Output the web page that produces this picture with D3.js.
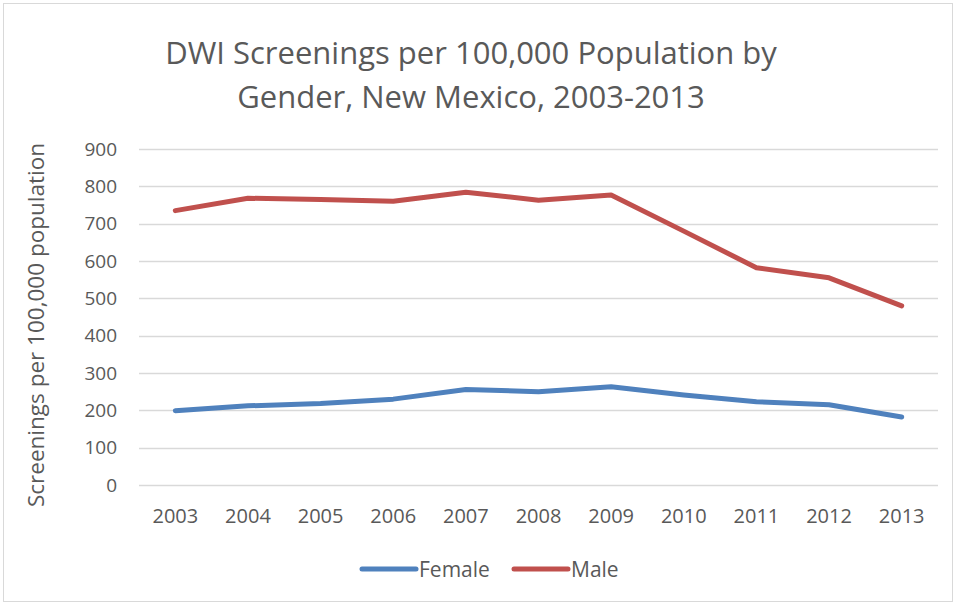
<!DOCTYPE html>
<meta charset="utf-8" />
<script src="https://d3js.org/d3.v7.min.js"></script>
<body style="margin: 0; background-color: #ffffff">
  <div id="chart"></div>
  <script>
    var years = ["2003", "2004", "2005", "2006", "2007", "2008", "2009", "2010", "2011", "2012", "2013"];
    var female = [199, 212, 218, 230, 256, 250, 263, 241, 223, 215, 182];
    var male = [735, 768, 765, 760, 784, 763, 777, 680, 582, 555, 480];
    var yTicks = [0, 100, 200, 300, 400, 500, 600, 700, 800, 900];
    var seriesNames = ["Female", "Male"];
    var colors = ["#4f81bd", "#c0504d"];

    var W = 956, H = 605;
    var margin = { top: 149, right: 18, bottom: 120, left: 139 };
    var width = W - margin.left - margin.right,
      height = H - margin.top - margin.bottom;

    var svg = d3
      .select("#chart")
      .append("svg")
      .attr("width", W)
      .attr("height", H)
      .style("font-family", "'Open Sans', sans-serif");

    // chart frame
    svg
      .append("rect")
      .attr("x", 3.5)
      .attr("y", 3.5)
      .attr("width", W - 7)
      .attr("height", H - 7)
      .attr("fill", "#fff")
      .attr("stroke", "#d9d9d9");

    // title
    var title = svg
      .append("text")
      .attr("text-anchor", "middle")
      .style("font-size", "31px")
      .style("fill", "#595959");
    title.append("tspan").attr("x", 471).attr("y", 64).text("DWI Screenings per 100,000 Population by");
    title.append("tspan").attr("x", 471).attr("y", 108).text("Gender, New Mexico, 2003-2013");

    var g = svg
      .append("g")
      .attr("transform", "translate(" + margin.left + "," + margin.top + ")");

    var x = d3.scaleBand().domain(years).range([0, width]);
    var y = d3.scaleLinear().domain([0, 900]).range([height, 0]);

    // gridlines
    g.append("g")
      .selectAll("line")
      .data(yTicks)
      .enter()
      .append("line")
      .attr("x1", 0)
      .attr("x2", width)
      .attr("y1", function (d) { return Math.round(y(d)) + 0.5; })
      .attr("y2", function (d) { return Math.round(y(d)) + 0.5; })
      .attr("stroke", "#d9d9d9")
      .attr("stroke-width", 1.5);

    // y axis labels
    var yAxis = g.append("g").call(d3.axisLeft(y).tickValues(yTicks).tickSize(0).tickPadding(22));
    yAxis.select(".domain").remove();
    yAxis.selectAll("text").style("font-size", "19px").style("fill", "#595959").style("font-family", "'Open Sans', sans-serif");

    // x axis labels
    var xAxis = g
      .append("g")
      .attr("transform", "translate(0," + height + ")")
      .call(d3.axisBottom(x).tickSize(0).tickPadding(24));
    xAxis.select(".domain").remove();
    xAxis.selectAll("text").style("font-size", "20px").style("fill", "#595959").style("font-family", "'Open Sans', sans-serif");

    // y axis title
    svg
      .append("text")
      .attr("transform", "translate(44," + (margin.top + height / 2 + 8) + ") rotate(-90)")
      .attr("text-anchor", "middle")
      .style("font-size", "22.5px")
      .style("fill", "#595959")
      .text("Screenings per 100,000 population");

    var line = d3
      .line()
      .x(function (d, i) { return x(years[i]) + x.bandwidth() / 2; })
      .y(function (d) { return y(d); });

    [female, male].forEach(function (s, i) {
      g.append("path")
        .datum(s)
        .attr("d", line)
        .attr("fill", "none")
        .attr("stroke", colors[i])
        .attr("stroke-width", 5)
        .attr("stroke-linecap", "round")
        .attr("stroke-linejoin", "round");
    });

    // legend
    var legendX = [362, 514];
    seriesNames.forEach(function (name, i) {
      svg
        .append("line")
        .attr("x1", legendX[i])
        .attr("x2", legendX[i] + 54)
        .attr("y1", 569)
        .attr("y2", 569)
        .attr("stroke", colors[i])
        .attr("stroke-width", 5)
        .attr("stroke-linecap", "round");
      svg
        .append("text")
        .attr("x", legendX[i] + 57)
        .attr("y", 577)
        .style("font-size", "21px")
        .style("fill", "#595959")
        .text(name);
    });
  </script>
</body>
